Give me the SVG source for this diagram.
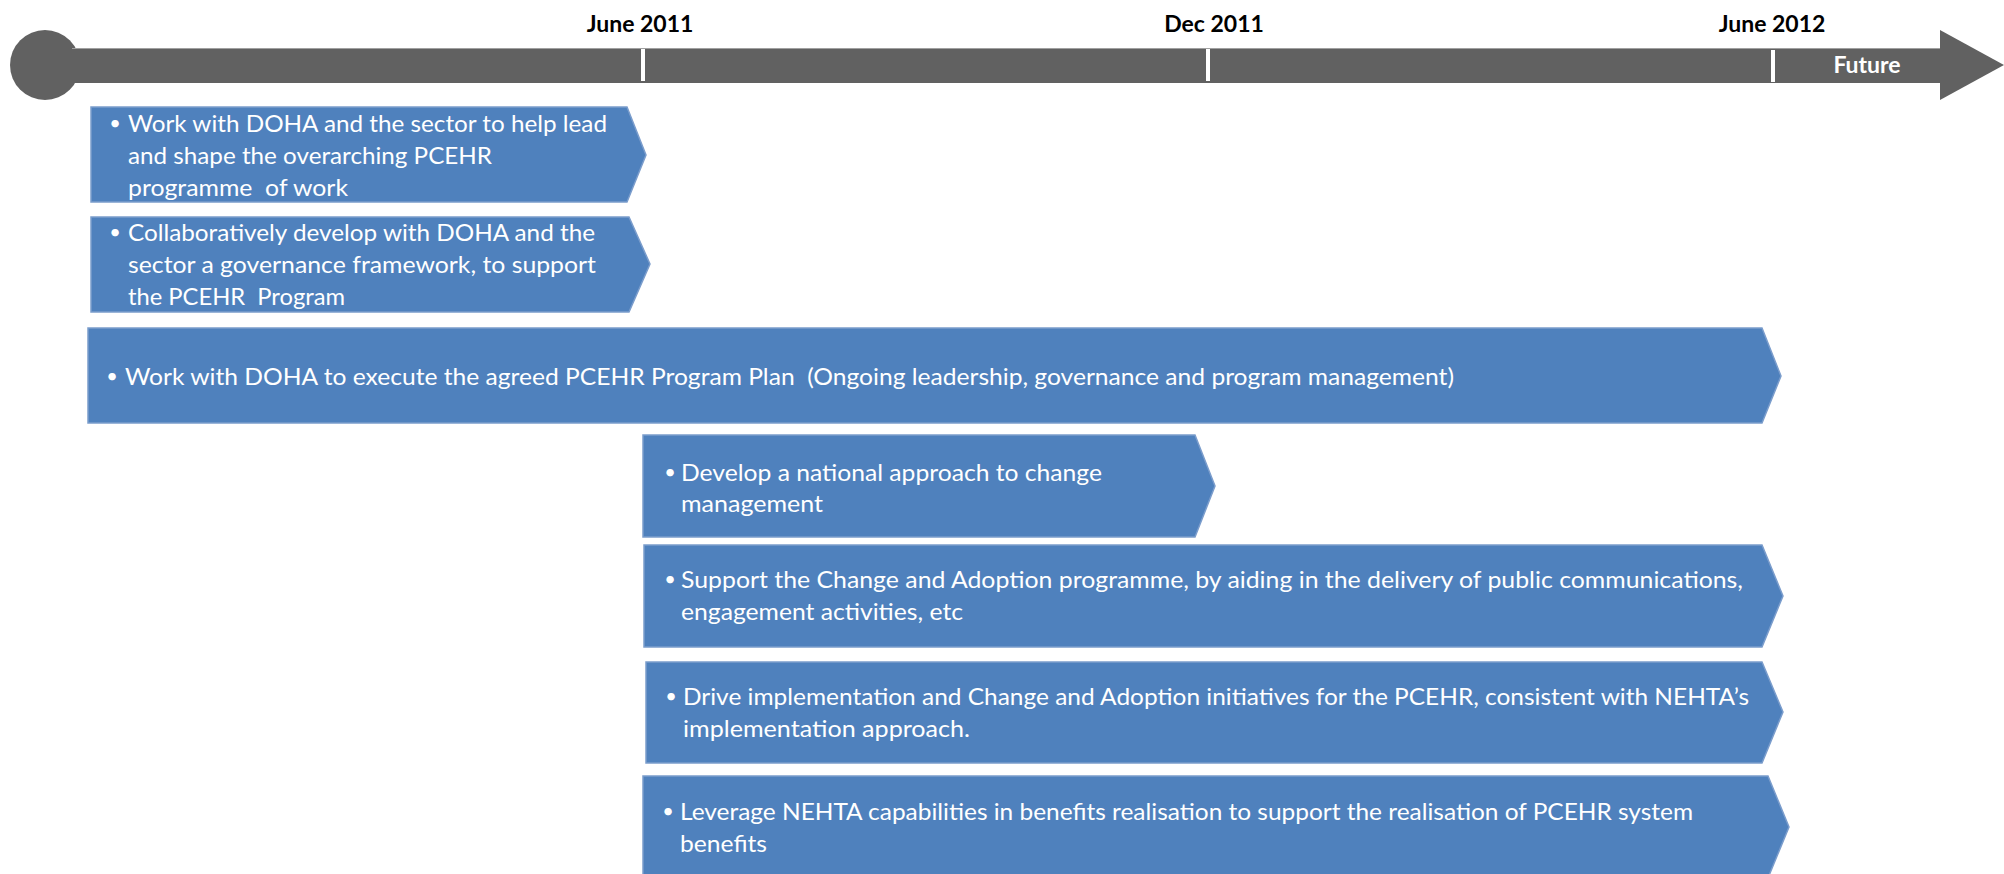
<svg xmlns="http://www.w3.org/2000/svg" width="2004" height="874" viewBox="0 0 2004 874">
<style>
.box{fill:#4F81BD;stroke:#7B9DCC;stroke-width:1.5}
.t{font-family:Lato,"Open Sans","Liberation Sans",sans-serif;font-size:24px;fill:#FFFFFF}
.b{font-family:Lato,"Open Sans","Liberation Sans",sans-serif;font-size:20px;fill:#FFFFFF;text-anchor:middle}
.lbl{font-family:Lato,"Open Sans","Liberation Sans",sans-serif;font-weight:700;font-size:23px;fill:#000000;text-anchor:middle}
.fut{font-family:Lato,"Open Sans","Liberation Sans",sans-serif;font-weight:700;font-size:23px;fill:#FFFFFF;text-anchor:middle}
.bar{fill:#616161}
.tick{fill:#FFFFFF}
</style>
<rect width="2004" height="874" fill="#FFFFFF"/>
<g id="timeline">
<circle class="bar" cx="45" cy="65" r="35"/>
<rect class="bar" x="45" y="48" width="1896" height="35"/>
<line x1="72" y1="48.5" x2="1940" y2="48.5" stroke="#A0A0A0" stroke-width="1"/>
<polygon class="bar" points="1940,30 2004,65 1940,100"/>
<rect class="tick" x="641" y="49" width="4" height="32"/>
<rect class="tick" x="1206" y="49" width="4" height="32"/>
<rect class="tick" x="1771" y="50" width="4" height="32"/>
<text class="lbl" x="640" y="32">June 2011</text>
<text class="lbl" x="1214" y="32">Dec 2011</text>
<text class="lbl" x="1772" y="32">June 2012</text>
<text class="fut" x="1867" y="73">Future</text>
</g>
<g id="node1">
<path class="box" d="M91,107 H627 L646,155 L627,202 H91 Z"/>
<text class="b" x="115" y="130">•</text>
<text class="t" x="128" y="132" textLength="479" lengthAdjust="spacingAndGlyphs">Work with DOHA and the sector to help lead</text>
<text class="t" x="128" y="164" textLength="364" lengthAdjust="spacingAndGlyphs">and shape the overarching PCEHR</text>
<text class="t" x="128" y="196" textLength="220" lengthAdjust="spacingAndGlyphs">programme&#160; of work</text>
</g>
<g id="node2">
<path class="box" d="M91,217 H629 L650,264 L629,312 H91 Z"/>
<text class="b" x="115" y="239">•</text>
<text class="t" x="128" y="241" textLength="467" lengthAdjust="spacingAndGlyphs">Collaboratively develop with DOHA and the</text>
<text class="t" x="128" y="273" textLength="468" lengthAdjust="spacingAndGlyphs">sector a governance framework, to support</text>
<text class="t" x="128" y="305" textLength="217" lengthAdjust="spacingAndGlyphs">the PCEHR&#160; Program</text>
</g>
<g id="node3">
<path class="box" d="M88,328 H1762 L1781,376 L1762,423 H88 Z"/>
<text class="b" x="112" y="383">•</text>
<text class="t" x="125" y="385" textLength="1329" lengthAdjust="spacingAndGlyphs">Work with DOHA to execute the agreed PCEHR Program Plan&#160; (Ongoing leadership, governance and program management)</text>
</g>
<g id="node4">
<path class="box" d="M643,435 H1195 L1215,486 L1195,537 H643 Z"/>
<text class="b" x="670" y="479">•</text>
<text class="t" x="681" y="481" textLength="421" lengthAdjust="spacingAndGlyphs">Develop a national approach to change</text>
<text class="t" x="681" y="512" textLength="142" lengthAdjust="spacingAndGlyphs">management</text>
</g>
<g id="node5">
<path class="box" d="M644,545 H1762 L1783,596 L1762,647 H644 Z"/>
<text class="b" x="670" y="586">•</text>
<text class="t" x="681" y="588" textLength="1062" lengthAdjust="spacingAndGlyphs">Support the Change and Adoption programme, by aiding in the delivery of public communications,</text>
<text class="t" x="681" y="620" textLength="282" lengthAdjust="spacingAndGlyphs">engagement activities, etc</text>
</g>
<g id="node6">
<path class="box" d="M646,662 H1762 L1783,712 L1762,763 H646 Z"/>
<text class="b" x="671" y="703">•</text>
<text class="t" x="683" y="705" textLength="1066" lengthAdjust="spacingAndGlyphs">Drive implementation and Change and Adoption initiatives for the PCEHR, consistent with NEHTA’s</text>
<text class="t" x="683" y="737" textLength="287" lengthAdjust="spacingAndGlyphs">implementation approach.</text>
</g>
<g id="node7">
<path class="box" d="M643,776 H1768 L1789,827 L1768,878 H643 Z"/>
<text class="b" x="668" y="818">•</text>
<text class="t" x="680" y="820" textLength="1013" lengthAdjust="spacingAndGlyphs">Leverage NEHTA capabilities in benefits realisation to support the realisation of PCEHR system</text>
<text class="t" x="680" y="852" textLength="87" lengthAdjust="spacingAndGlyphs">benefits</text>
</g>
</svg>
